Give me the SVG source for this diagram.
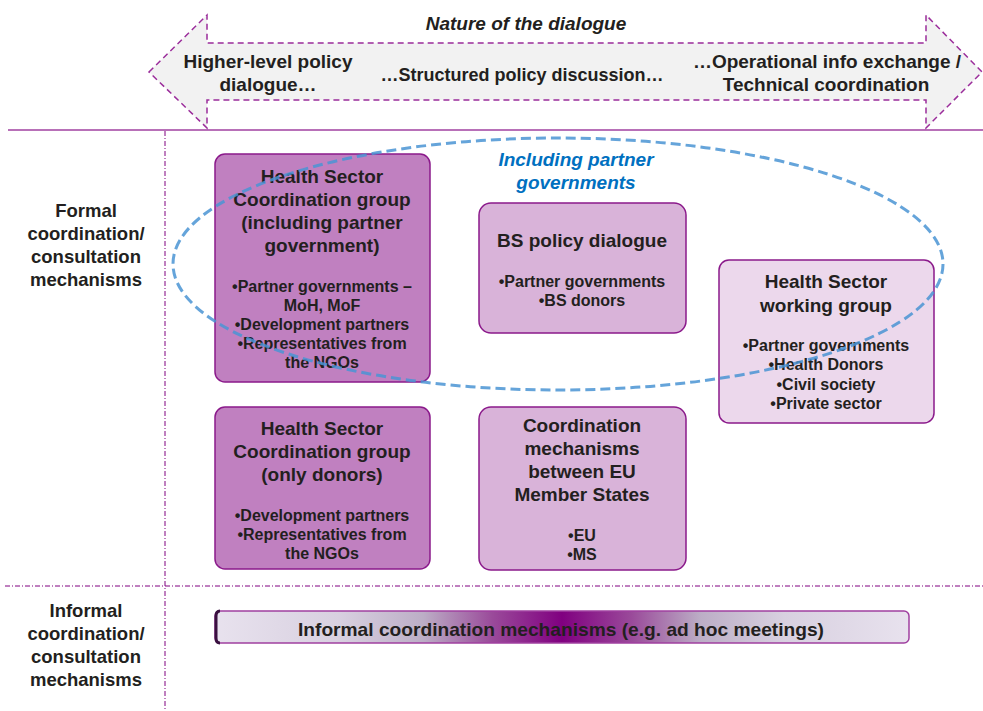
<svg xmlns="http://www.w3.org/2000/svg" width="983" height="711" viewBox="0 0 983 711">
<style>
text{font-family:"Liberation Sans",Arial,sans-serif;font-weight:bold;fill:#231f20;text-anchor:middle}
.t{font-size:19px}
.b{font-size:16px}
.lab{font-size:18.5px}
.node{stroke:#8b1a8b;stroke-width:1.5}
.sep{stroke:#800080;stroke-width:1;fill:none;stroke-dasharray:5 2 1 2}
</style>
<defs>
<linearGradient id="grad" x1="0" y1="0" x2="1" y2="0">
<stop offset="0" stop-color="#e8e2ee"/>
<stop offset="0.18" stop-color="#d8d0e0"/>
<stop offset="0.3" stop-color="#bcaec6"/>
<stop offset="0.4" stop-color="#9a4a9a"/>
<stop offset="0.5" stop-color="#800080"/>
<stop offset="0.6" stop-color="#9a4a9a"/>
<stop offset="0.7" stop-color="#bcaec6"/>
<stop offset="0.82" stop-color="#d8d0e0"/>
<stop offset="1" stop-color="#e8e2ee"/>
</linearGradient>
</defs>
<rect width="983" height="711" fill="#ffffff"/>
<g id="header">
<polygon points="149,72 207,15 207,43 926,43 926,15 982,72 926,128 926,100 207,100 207,128" fill="#f2f2f2" stroke="#9b2d9b" stroke-width="1.5" stroke-dasharray="6 4"/>
<text x="526" y="30" class="t" font-style="italic">Nature of the dialogue</text>
<text x="268" y="68" class="t">Higher-level policy</text>
<text x="268" y="91" class="t">dialogue…</text>
<text x="522" y="81" style="font-size:18px">…Structured policy discussion…</text>
<text x="827" y="68" class="t">…Operational info exchange /</text>
<text x="826" y="91" class="t">Technical coordination</text>
</g>
<g id="grid">
<line x1="8" y1="130" x2="983" y2="130" stroke="#a040a0" stroke-width="1.5"/>
<line x1="165" y1="131" x2="165" y2="711" class="sep"/>
<line x1="5" y1="586" x2="983" y2="586" class="sep"/>
</g>
<g id="labels">
<text x="86" y="217" class="lab">Formal</text>
<text x="86" y="240" class="lab">coordination/</text>
<text x="86" y="263" class="lab">consultation</text>
<text x="86" y="286" class="lab">mechanisms</text>
<text x="86" y="617" class="lab">Informal</text>
<text x="86" y="640" class="lab">coordination/</text>
<text x="86" y="663" class="lab">consultation</text>
<text x="86" y="686" class="lab">mechanisms</text>
</g>
<g id="node-hscg-gov">
<rect x="215" y="154" width="215" height="228" rx="10" fill="#c080c0" class="node"/>
<text x="322" y="183" class="t">Health Sector</text>
<text x="322" y="206" class="t">Coordination group</text>
<text x="322" y="229" class="t">(including partner</text>
<text x="322" y="252" class="t">government)</text>
<text x="322" y="292" class="b">•Partner governments –</text>
<text x="322" y="311" class="b">MoH, MoF</text>
<text x="322" y="330" class="b">•Development partners</text>
<text x="322" y="349" class="b">•Representatives from</text>
<text x="322" y="368" class="b">the NGOs</text>
</g>
<g id="node-bs">
<rect x="479" y="203" width="207" height="130" rx="12" fill="#d9b3d9" class="node"/>
<text x="582" y="247" class="t">BS policy dialogue</text>
<text x="582" y="287" class="b">•Partner governments</text>
<text x="582" y="306" class="b">•BS donors</text>
</g>
<g id="node-hswg">
<rect x="719" y="260" width="215" height="163" rx="10" fill="#ecd8ec" class="node"/>
<text x="826" y="288" class="t">Health Sector</text>
<text x="826" y="312" class="t">working group</text>
<text x="826" y="351" class="b">•Partner governments</text>
<text x="826" y="370" class="b">•Health Donors</text>
<text x="826" y="390" class="b">•Civil society</text>
<text x="826" y="409" class="b">•Private sector</text>
</g>
<g id="node-hscg-donors">
<rect x="215" y="407" width="215" height="162" rx="10" fill="#c080c0" class="node"/>
<text x="322" y="435" class="t">Health Sector</text>
<text x="322" y="458" class="t">Coordination group</text>
<text x="322" y="481" class="t">(only donors)</text>
<text x="322" y="521" class="b">•Development partners</text>
<text x="322" y="540" class="b">•Representatives from</text>
<text x="322" y="559" class="b">the NGOs</text>
</g>
<g id="node-eu">
<rect x="479" y="407" width="207" height="163" rx="12" fill="#d9b3d9" class="node"/>
<text x="582" y="432" class="t">Coordination</text>
<text x="582" y="455" class="t">mechanisms</text>
<text x="582" y="478" class="t">between EU</text>
<text x="582" y="501" class="t">Member States</text>
<text x="582" y="541" class="b">•EU</text>
<text x="582" y="560" class="b">•MS</text>
</g>
<g id="partner-ellipse">
<ellipse cx="558" cy="264" rx="385" ry="126" fill="none" stroke="#4a94d4" stroke-opacity="0.85" stroke-width="3" stroke-dasharray="10 5"/>
<text x="576" y="166" class="t" font-style="italic" style="fill:#0070c0">Including partner</text>
<text x="576" y="189" class="t" font-style="italic" style="fill:#0070c0">governments</text>
</g>
<g id="node-informal">
<rect x="215" y="611" width="694" height="32" rx="5" fill="url(#grad)" stroke="#a040a0" stroke-width="1.5"/>
<path d="M220,611 Q216,611 216,616 L216,638 Q216,643 220,643" fill="none" stroke="#3a1040" stroke-width="3"/>
<text x="561" y="636" style="font-size:19px" textLength="526" lengthAdjust="spacingAndGlyphs">Informal coordination mechanisms (e.g. ad hoc meetings)</text>
</g>
</svg>
